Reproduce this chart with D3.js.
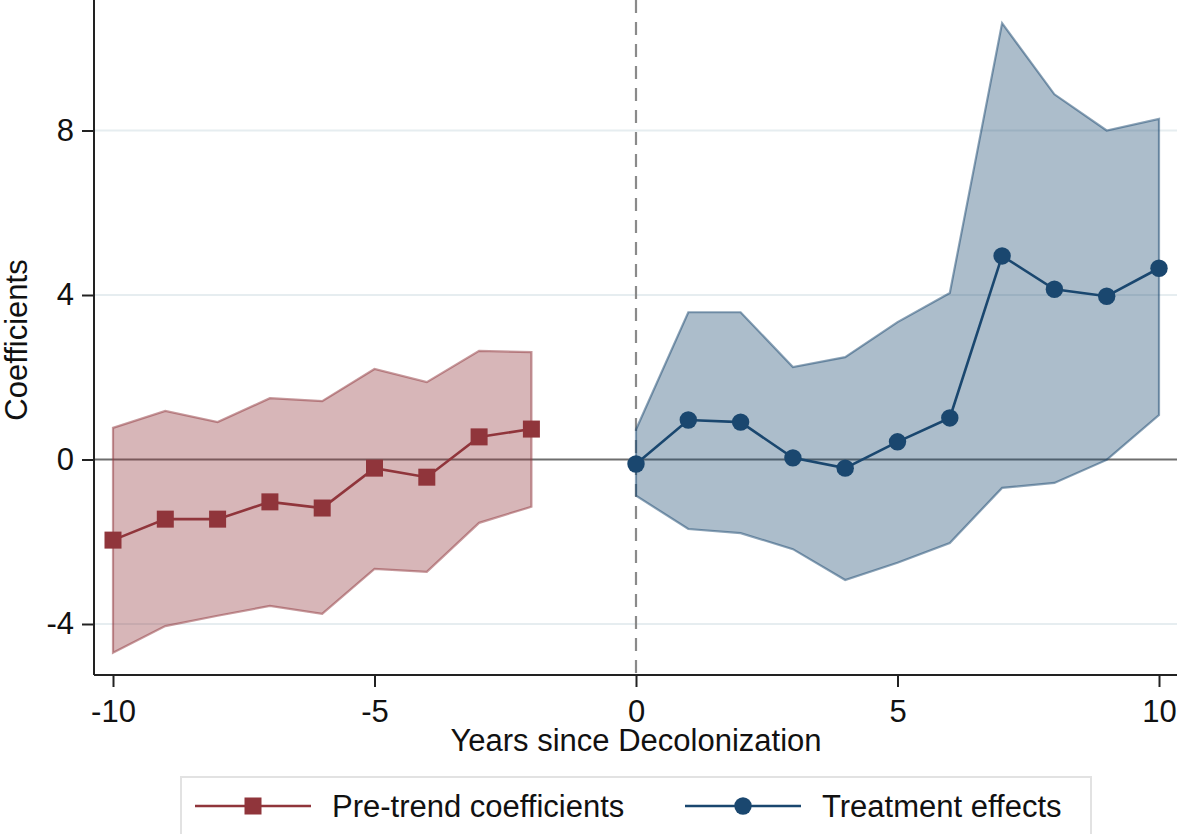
<!DOCTYPE html>
<html>
<head>
<meta charset="utf-8">
<script src="https://cdn.jsdelivr.net/npm/d3@7"></script>
<style>
  html, body { margin: 0; padding: 0; background: #fff; }
  svg { display: block; font-family: "Liberation Sans", Arial, sans-serif; }
</style>
</head>
<body>
<svg id="chart" width="1177" height="834"></svg>
<script>
// Event-study estimates around decolonization
const preYears   = [-10, -9, -8, -7, -6, -5, -4, -3, -2];
const preCoef    = [-1.96, -1.45, -1.45, -1.03, -1.18, -0.21, -0.43, 0.55, 0.74];
const preUpper   = [0.77, 1.18, 0.91, 1.49, 1.42, 2.20, 1.88, 2.64, 2.61];
const preLower   = [-4.70, -4.05, -3.80, -3.56, -3.75, -2.66, -2.73, -1.54, -1.15];

const postYears  = [0, 1, 2, 3, 4, 5, 6, 7, 8, 9, 10];
const postCoef   = [-0.11, 0.96, 0.91, 0.04, -0.21, 0.43, 1.01, 4.95, 4.14, 3.97, 4.65];
const postUpper  = [0.73, 3.58, 3.58, 2.25, 2.49, 3.34, 4.05, 10.61, 8.88, 8.00, 8.28];
const postLower  = [-0.88, -1.69, -1.79, -2.18, -2.93, -2.51, -2.03, -0.69, -0.57, -0.01, 1.08];

const xTicks = [-10, -5, 0, 5, 10];
const yTicks = [-4, 0, 4, 8];
const gridTicks = [-4, 4, 8];

const seriesNames = ["Pre-trend coefficients", "Treatment effects"];
const xTitle = "Years since Decolonization";
const yTitle = "Coefficients";

const red = "#90353b";
const navy = "#1a476f";
const fontSize = 31;

const svg = d3.select("#chart");
const plot = { left: 94, right: 1177, top: 0, bottom: 675 };

const x = d3.scaleLinear().domain([-10, 10]).range([113, 1159]);
const y = d3.scaleLinear().domain([-4, 8]).range([624, 130.5]);

// light horizontal grid
svg.append("g").selectAll("line").data(gridTicks).join("line")
  .attr("x1", plot.left).attr("x2", plot.right)
  .attr("y1", d => y(d)).attr("y2", d => y(d))
  .attr("stroke", "#e6edf0").attr("stroke-width", 2);

// reference lines: zero coefficient and event date
svg.append("line")
  .attr("x1", plot.left).attr("x2", plot.right)
  .attr("y1", y(0)).attr("y2", y(0))
  .attr("stroke", "#6e6e6e").attr("stroke-width", 2);
svg.append("line")
  .attr("x1", x(0)).attr("x2", x(0))
  .attr("y1", plot.top).attr("y2", plot.bottom)
  .attr("stroke", "#8a8a8a").attr("stroke-width", 2.2)
  .attr("stroke-dasharray", "13,9");

function drawSeries(years, coef, upper, lower, color, marker) {
  const band = years.map((yr, i) => ({ yr, lo: lower[i], hi: upper[i] }));
  const area = d3.area().x(d => x(d.yr)).y0(d => y(d.lo)).y1(d => y(d.hi));
  svg.append("path").datum(band)
    .attr("d", area)
    .attr("fill", color).attr("fill-opacity", 0.36)
    .attr("stroke", color).attr("stroke-opacity", 0.5).attr("stroke-width", 2.2)
    .attr("stroke-linejoin", "miter");

  const pts = years.map((yr, i) => ({ yr, v: coef[i] }));
  const line = d3.line().x(d => x(d.yr)).y(d => y(d.v));
  svg.append("path").datum(pts)
    .attr("d", line).attr("fill", "none")
    .attr("stroke", color).attr("stroke-width", 2.6);

  const g = svg.append("g");
  if (marker === "square") {
    g.selectAll("rect").data(pts).join("rect")
      .attr("x", d => x(d.yr) - 8.5).attr("y", d => y(d.v) - 8.5)
      .attr("width", 17).attr("height", 17).attr("fill", color);
  } else {
    g.selectAll("circle").data(pts).join("circle")
      .attr("cx", d => x(d.yr)).attr("cy", d => y(d.v))
      .attr("r", 8.7).attr("fill", color);
  }
}

drawSeries(preYears, preCoef, preUpper, preLower, red, "square");
drawSeries(postYears, postCoef, postUpper, postLower, navy, "circle");

// axes
const signed = d => d < 0 ? "-" + Math.abs(d) : String(d);

const xAxis = svg.append("g").attr("transform", `translate(0,${plot.bottom})`)
  .call(d3.axisBottom(x).tickValues(xTicks).tickSize(12).tickPadding(13).tickFormat(signed));
xAxis.select(".domain").attr("d", `M${plot.left},0H${plot.right}`)
  .attr("stroke", "#222").attr("stroke-width", 2);
xAxis.selectAll(".tick line").attr("stroke", "#222").attr("stroke-width", 2);
xAxis.selectAll(".tick text").attr("font-size", fontSize).attr("fill", "#111");

const yAxis = svg.append("g").attr("transform", `translate(${plot.left},0)`)
  .call(d3.axisLeft(y).tickValues(yTicks).tickSize(12).tickPadding(8).tickFormat(signed));
yAxis.select(".domain").attr("d", `M0,${plot.top}V${plot.bottom}`)
  .attr("stroke", "#222").attr("stroke-width", 2);
yAxis.selectAll(".tick line").attr("stroke", "#222").attr("stroke-width", 2);
yAxis.selectAll(".tick text").attr("font-size", fontSize).attr("fill", "#111");

// axis titles
svg.append("text")
  .attr("x", 636).attr("y", 751)
  .attr("text-anchor", "middle").attr("font-size", fontSize).attr("fill", "#111")
  .text(xTitle);
svg.append("text")
  .attr("transform", "translate(27,340) rotate(-90)")
  .attr("text-anchor", "middle").attr("font-size", fontSize).attr("fill", "#111")
  .text(yTitle);

// legend
const lg = svg.append("g");
lg.append("rect")
  .attr("x", 181).attr("y", 777).attr("width", 910).attr("height", 70)
  .attr("fill", "#fff").attr("stroke", "#e2e2e2").attr("stroke-width", 2);

const legendItems = [
  { name: seriesNames[0], color: red, marker: "square", x0: 195, tx: 332 },
  { name: seriesNames[1], color: navy, marker: "circle", x0: 685, tx: 822 }
];
const ly = 806;
legendItems.forEach(it => {
  lg.append("line")
    .attr("x1", it.x0).attr("x2", it.x0 + 116)
    .attr("y1", ly).attr("y2", ly)
    .attr("stroke", it.color).attr("stroke-width", 2.6);
  if (it.marker === "square") {
    lg.append("rect").attr("x", it.x0 + 58 - 8.5).attr("y", ly - 8.5)
      .attr("width", 17).attr("height", 17).attr("fill", it.color);
  } else {
    lg.append("circle").attr("cx", it.x0 + 58).attr("cy", ly).attr("r", 8.7)
      .attr("fill", it.color);
  }
  lg.append("text").attr("x", it.tx).attr("y", ly + 11)
    .attr("font-size", fontSize).attr("fill", "#111").text(it.name);
});
</script>
</body>
</html>
